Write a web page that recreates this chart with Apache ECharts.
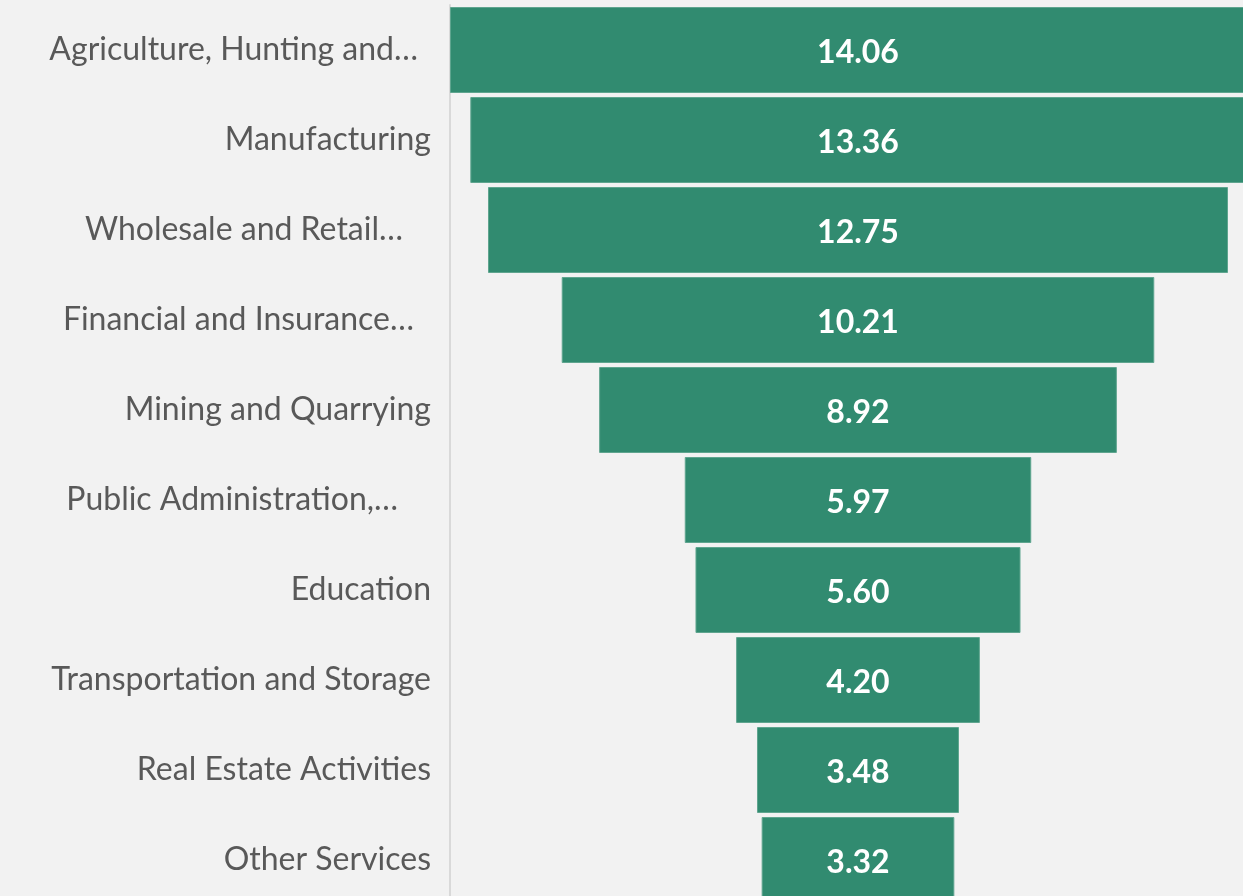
<!DOCTYPE html>
<html><head><meta charset="utf-8">
<script src="https://cdn.jsdelivr.net/npm/echarts@6/dist/echarts.min.js"></script>
<style>html,body{margin:0;padding:0;background:#f2f2f2;overflow:hidden;width:1243px;height:896px;}#c{width:1266px;height:905px;}</style>
</head><body><div id="c"></div>
<script>
const categories = ["Agriculture, Hunting and…","Manufacturing","Wholesale and Retail…","Financial and Insurance…","Mining and Quarrying","Public Administration,…","Education","Transportation and Storage","Real Estate Activities","Other Services"];
const values = [14.06,13.36,12.75,10.21,8.92,5.97,5.60,4.20,3.48,3.32];
const labelRightPad = [13,0,28,17,0,33,0,0,0,0];

const maxV = Math.max(...values);
const offsets = values.map(v => (maxV - v) / 2);

const chart = echarts.init(document.getElementById('c'));
chart.setOption({
  backgroundColor: '#f2f2f2',
  animation: false,
  grid: { left: 450, top: 5, right: 0, bottom: 0 },
  xAxis: { type: 'value', min: 0, max: maxV, show: false },
  yAxis: {
    type: 'category', inverse: true,
    data: categories.map((c, i) => ({ value: c, textStyle: { padding: [4, labelRightPad[i], 0, 0] } })),
    axisLine: { show: true, lineStyle: { color: '#d9d9d9', width: 2 } },
    axisTick: { show: false },
    axisLabel: { color: '#595959', fontFamily: 'Lato', fontSize: 32, margin: 19 }
  },
  series: [
    { type: 'bar', stack: 'f', data: offsets, itemStyle: { color: 'transparent' }, barWidth: 86, silent: true },
    { type: 'bar', stack: 'f', data: values, barWidth: 86,
      itemStyle: { color: '#318b70', borderColor: '#5fa58f', borderWidth: 1 },
      label: { show: true, position: 'inside', offset: [0, 3], color: '#ffffff', fontFamily: 'Lato', fontWeight: 'bold', fontSize: 32,
        formatter: p => p.value.toFixed(2) } }
  ]
});
</script></body></html>
